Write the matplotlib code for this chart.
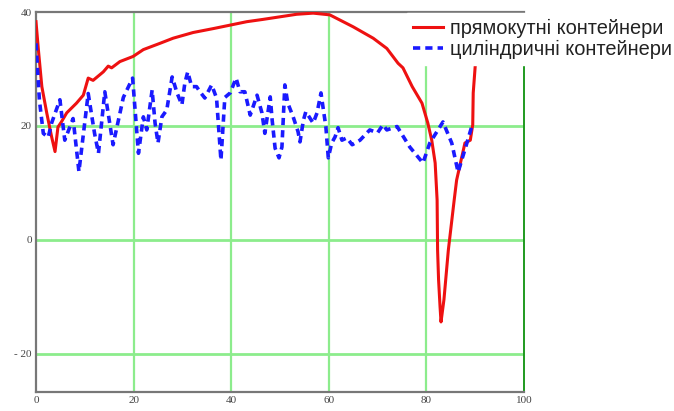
import matplotlib
matplotlib.use('Agg')
import matplotlib.pyplot as plt

###############################################################################
## Data
###############################################################################

# прямокутні контейнери (red solid)
x_rect = [0, 0.5, 1.2, 2.2, 3.2, 3.9, 4.5, 5.2, 6.3, 8.3, 9.7, 10.7, 11.7,
          13.8, 14.8, 15.5, 17.2, 19.9, 22.0, 25.4, 28.1, 32.2, 36.4, 39.8,
          43.2, 46.5, 53.4, 56.8, 60.2, 65.0, 69.1, 71.9, 74.2, 75.2, 77.1,
          79.1, 80.3, 81.1, 81.8, 82.2, 82.3, 82.5, 82.8, 83.0, 83.6, 84.5,
          85.7, 86.2, 87.9, 89.0, 89.5, 89.6, 90.0, 90.3]
y_rect = [38.3, 33.3, 26.9, 22.3, 18.1, 15.5, 19.8, 20.7, 22.3, 24.0, 25.4,
          28.4, 28.0, 29.5, 30.5, 30.2, 31.3, 32.2, 33.4, 34.5, 35.4, 36.4,
          37.1, 37.7, 38.3, 38.7, 39.6, 39.8, 39.5, 37.4, 35.4, 33.6, 31.0,
          30.2, 26.9, 24.0, 20.5, 17.5, 13.5, 7.0, -1.8, -7.0, -11.7, -14.4,
          -10.5, -1.8, 7.0, 10.5, 17.0, 17.5, 20.2, 25.8, 30.4, 35.0]

# циліндричні контейнери (blue dashed)
x_cyl = [0, 0.7, 1.5, 2.5, 3.2, 4.9, 5.9, 7.6, 8.8, 10.7, 12.0, 12.8, 14.1,
         15.8, 17.9, 19.8, 21.0, 22.0, 22.7, 23.8, 24.4, 25.0, 25.8, 26.8,
         27.9, 28.9, 29.9, 30.5, 31.1, 31.9, 32.9, 33.6, 34.6, 36.0, 37.0,
         37.9, 38.7, 39.8, 41.0, 41.8, 42.8, 43.9, 45.3, 46.3, 46.9, 48.0,
         48.4, 49.0, 49.8, 50.4, 51.0, 51.6, 52.7, 53.7, 54.1, 54.8, 55.3,
         56.8, 57.6, 58.4, 58.8, 59.4, 59.9, 60.6, 61.3, 61.9, 62.7, 63.7,
         64.8, 66.4, 68.4, 70.0, 71.1, 71.9, 74.0, 76.6, 79.3, 80.7, 83.4,
         85.2, 86.5, 88.3, 89.5]
y_cyl = [34.5, 24.5, 18.7, 18.0, 20.5, 24.6, 17.5, 21.3, 12.0, 25.7, 18.7,
         15.2, 26.0, 16.7, 25.0, 28.4, 15.2, 21.6, 19.3, 26.3, 20.5, 17.0,
         21.6, 22.8, 28.6, 25.8, 23.7, 27.5, 29.5, 26.9, 26.9, 26.0, 24.9,
         27.2, 24.9, 14.0, 25.0, 25.8, 28.4, 26.0, 26.0, 21.9, 25.4, 22.3,
         18.7, 25.1, 21.0, 16.1, 14.4, 16.3, 27.2, 24.0, 21.6, 19.0, 17.2,
         21.0, 22.5, 20.5, 22.3, 25.8, 23.4, 19.9, 14.4, 17.0, 18.1, 19.7,
         17.5, 17.9, 16.7, 17.5, 19.3, 18.8, 20.2, 19.3, 19.9, 16.3, 13.5,
         17.0, 20.7, 17.0, 11.9, 17.0, 20.5]

x_ticks = [0, 20, 40, 60, 80, 100]
y_ticks = [-20, 0, 20, 40]
y_tick_labels = ['- 20', '0', '20', '40']

###############################################################################
## Plot
###############################################################################

fig = plt.figure(figsize=(6.74, 4.11), dpi=100)
ax = fig.add_axes([0.0534, 0.0462, 0.724, 0.9246])

grid_col = '#8cec8c'
for gx in [20, 40, 60, 80]:
    ax.axvline(gx, color=grid_col, lw=1.6, zorder=1)
for gy in [-20, 0, 20]:
    ax.axhline(gy, color=grid_col, lw=2.0, zorder=1)

ax.plot(x_rect, y_rect, color='#ee1111', lw=2.2, zorder=3,
        label='прямокутні контейнери')
ax.plot(x_cyl, y_cyl, color='#1a1aff', lw=2.6, ls=(0, (2, 1.4)), zorder=3,
        label='циліндричні контейнери')

ax.set_xlim(0, 100)
ax.set_ylim(-26.7, 40)
ax.set_xticks(x_ticks)
ax.set_yticks(y_ticks)
ax.set_yticklabels(y_tick_labels)
ax.tick_params(length=0, labelsize=8, colors='#444444', pad=3)
for lab in ax.get_xticklabels() + ax.get_yticklabels():
    lab.set_family('Liberation Serif')

for s in ['left', 'bottom', 'top']:
    ax.spines[s].set_color('#777777')
    ax.spines[s].set_linewidth(1.6)
ax.spines['right'].set_color('#1f9a1f')
ax.spines['right'].set_linewidth(1.4)

# legend box sits over the top-right corner and hides the plot there
leg = fig.legend(loc='upper right', bbox_to_anchor=(1.006, 0.969),
                 prop={'family': 'Liberation Sans', 'size': 14.4},
                 frameon=True, fancybox=False, framealpha=1,
                 handlelength=1.5, handletextpad=0.35, labelspacing=0.1,
                 borderpad=0.3, borderaxespad=0.0)
leg.get_frame().set_edgecolor('white')
leg.get_frame().set_facecolor('white')
for t in leg.get_texts():
    t.set_color('#222222')

plt.savefig('out.png', dpi=100)
